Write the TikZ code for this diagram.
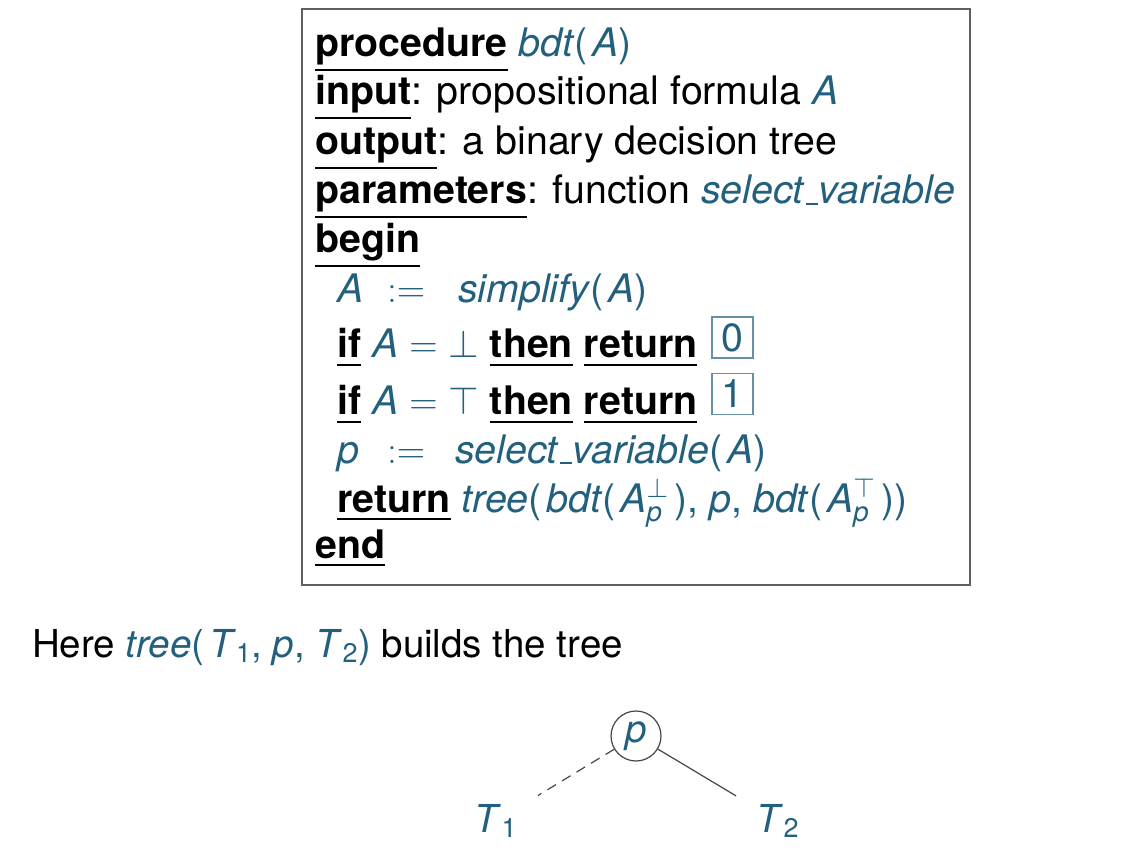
\documentclass[tikz,border=0pt]{standalone}
\usepackage{fix-cm}
\usepackage{amsmath}
\usepackage{fontspec}
\setmainfont{TeX Gyre Heros}
\definecolor{tl}{RGB}{35,96,126}
\definecolor{framegray}{RGB}{95,95,95}
\definecolor{linegray}{RGB}{70,70,70}
\newcommand\bigfont{\fontsize{39.3}{46}\selectfont}
\newcommand\capfont{\fontsize{38.5}{46}\selectfont}
\newcommand\mi[1]{\textit{#1}\/}
\newcommand\lp{\textup{(}\kern.12em}
\newcommand\rp{\textup{)}}
\newcommand\us{\kern.06em\rule[-0.02em]{.3em}{0.045em}\kern.02em}
\newcommand\kwH[1]{\setbox0\hbox{\bfseries #1}\rlap{\rule[-13.6pt]{\wd0}{1.8pt}}\box0\relax}
\newcommand\kwB[1]{\setbox0\hbox{\bfseries #1}\rlap{\rule[-8pt]{\wd0}{1.8pt}}\box0\relax}
\begin{document}
\begin{tikzpicture}[x=1pt,y=-1pt,
  ln/.style={anchor=base west, inner sep=0pt, font=\bigfont},
  valbox/.style={draw=tl!70, line width=1.4pt, minimum width=41pt, minimum height=41pt, inner sep=0pt, text=tl, font=\bigfont},
  leaf/.style={inner sep=0pt, text=tl, font=\capfont}]
\useasboundingbox (0,0) rectangle (1146,866);
% frame
\draw[framegray, line width=1.5pt] (302,9) rectangle (970,585);
% header
\node[ln] (l1) at (315,57) {\kwH{procedure} \textcolor{tl}{\mi{bdt}\lp\mi{A}\rp}};
\node[ln] (l2) at (315,105) {\kwH{input}: propositional formula \textcolor{tl}{\mi{A}}};
\node[ln] (l3) at (315,155) {\kwH{output}: a binary decision tree};
\node[ln] (l4) at (315,204) {\kwH{parameters}: function \textcolor{tl}{\mi{select\us variable}}};
\node[ln] (l5) at (315,253) {\kwH{begin}};
% body
\node[ln, text=tl] (l6a) at (337,303) {\mi{A}};
\node[ln, text=tl] (l6b) at (387,303) {$:=$};
\node[ln, text=tl] (l6c) at (458,303) {\mi{simplify}\lp\mi{A}\rp};
\node[ln] (l7) at (337,358) {\kwB{if} \textcolor{tl}{$\textit{A} = \bot$} \kwB{then} \kwB{return}};
\node[valbox] (b0) at (732.5,337.5) {0};
\node[ln] (l8) at (337,415) {\kwB{if} \textcolor{tl}{$\textit{A} = \top$} \kwB{then} \kwB{return}};
\node[valbox] (b1) at (732.5,394) {1};
\node[ln, text=tl] (l9a) at (337,463) {\mi{p}};
\node[ln, text=tl] (l9b) at (387,463) {$:=$};
\node[ln, text=tl] (l9c) at (455,463) {\mi{select\us variable}\lp\mi{A}\rp};
\node[ln] (l10) at (337,512) {\kwB{return} \textcolor{tl}{\mi{tree}\lp\mi{bdt}\lp\mi{A}$_{\textit{p}}^{\bot}$\kern.15em\rp, \mi{p}, \mi{bdt}\lp\mi{A}$_{\textit{p}}^{\top}$\kern.15em\rp\rp}};
\node[ln] (l11) at (315,558) {\kwB{end}};
% caption
\node[ln, font=\capfont] (here) at (32,657) {Here \textcolor{tl}{\mi{tree}\lp\mi{T}$_{\textup{1}}$, \mi{p}, \mi{T}$_{\textup{2}}$\rp} builds the tree};
% tree
\node[circle, draw=linegray, line width=1.2pt, minimum size=50pt, inner sep=0pt, text=tl, font=\capfont] (p) at (636,736) {\mi{p}};
\node[leaf] (t1) at (496,821) {\mi{T}$_{\textup{1}}$};
\node[leaf] (t2) at (778,821) {\mi{T}$_{\textup{2}}$};
\draw[linegray, line width=1.2pt, dash pattern=on 10pt off 7pt, shorten >=24pt] (p) -- (t1);
\draw[linegray, line width=1.2pt, shorten >=24pt] (p) -- (t2);
\end{tikzpicture}
\end{document}
